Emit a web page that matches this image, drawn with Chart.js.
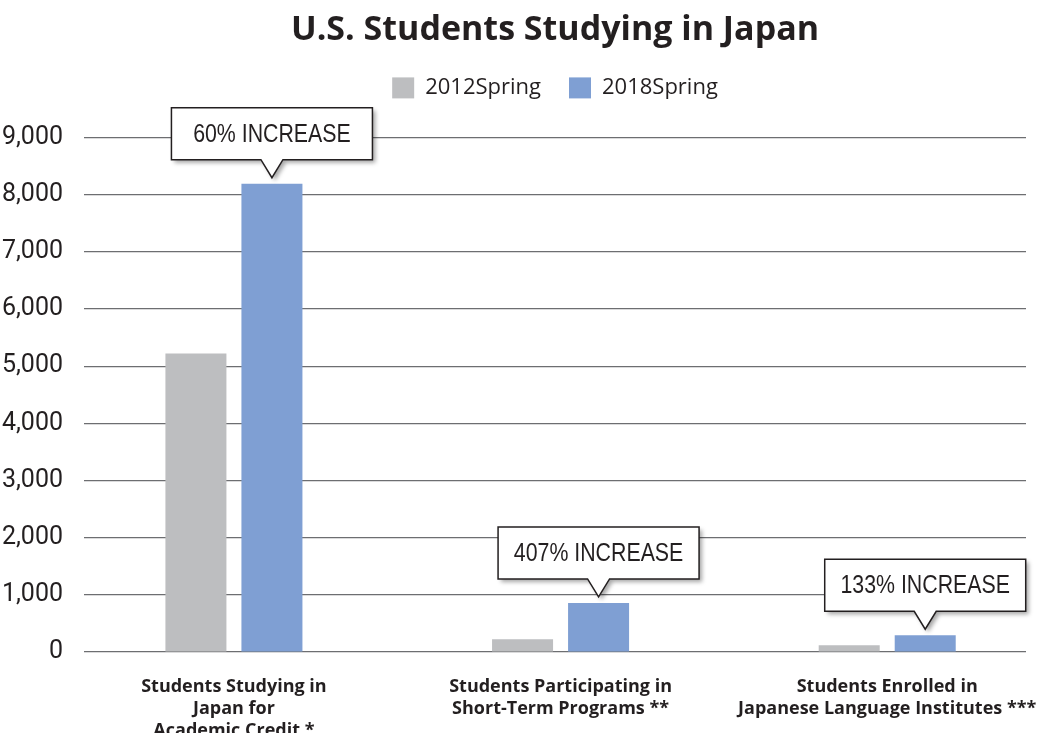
<!DOCTYPE html>
<html>
<head>
<meta charset="utf-8">
<script src="https://cdn.jsdelivr.net/npm/chart.js@4.4.1/dist/chart.umd.min.js"></script>
<style>
  html, body { margin: 0; padding: 0; background: #ffffff; }
  #wrap { width: 1041px; height: 733px; position: relative; }
</style>
</head>
<body>
<div id="wrap"><canvas id="c" width="1041" height="733"></canvas></div>
<script>
const categories = [
  ['Students Studying in', 'Japan for', 'Academic Credit *'],
  ['Students Participating in', 'Short-Term Programs **'],
  ['Students Enrolled in', 'Japanese Language Institutes ***']
];
const seriesNames = ['2012Spring', '2018Spring'];
const values2012 = [5220, 224, 120];
const values2018 = [8190, 859, 293];
const callouts = ['60% INCREASE', '407% INCREASE', '133% INCREASE'];
const yTicks = [0, 1000, 2000, 3000, 4000, 5000, 6000, 7000, 8000, 9000];

const calloutPlugin = {
  id: 'callouts',
  afterDatasetsDraw(chart) {
    const ctx = chart.ctx;
    const meta = chart.getDatasetMeta(1);
    meta.data.forEach((bar, i) => {
      const cx = bar.x;
      const tipY = bar.y - 6;
      const boxBottom = tipY - 18;
      const boxTop = boxBottom - 52;
      const w = 201;
      const left = cx - w / 2, right = cx + w / 2;
      ctx.save();
      ctx.beginPath();
      ctx.moveTo(left, boxTop);
      ctx.lineTo(right, boxTop);
      ctx.lineTo(right, boxBottom);
      ctx.lineTo(cx + 11, boxBottom);
      ctx.lineTo(cx, tipY);
      ctx.lineTo(cx - 11, boxBottom);
      ctx.lineTo(left, boxBottom);
      ctx.closePath();
      ctx.shadowColor = 'rgba(0,0,0,0.35)';
      ctx.shadowBlur = 4;
      ctx.shadowOffsetX = 3;
      ctx.shadowOffsetY = 3;
      ctx.fillStyle = '#ffffff';
      ctx.fill();
      ctx.shadowColor = 'transparent';
      ctx.lineWidth = 1.5;
      ctx.strokeStyle = '#231f20';
      ctx.stroke();
      ctx.fillStyle = '#231f20';
      ctx.font = '26px "Liberation Sans", Arial, sans-serif';
      ctx.textAlign = 'center';
      ctx.textBaseline = 'middle';
      ctx.translate(cx, (boxTop + boxBottom) / 2 + 1);
      ctx.scale(0.82, 1);
      ctx.fillText(callouts[i], 0, 0);
      ctx.restore();
    });
  }
};

new Chart(document.getElementById('c'), {
  type: 'bar',
  data: {
    datasets: [
      { label: seriesNames[0], data: values2012.map((v, i) => ({ x: i, y: v })), backgroundColor: '#bdbec0', borderWidth: 0 },
      { label: seriesNames[1], data: values2018.map((v, i) => ({ x: i, y: v })), backgroundColor: '#7f9fd3', borderWidth: 0 }
    ]
  },
  options: {
    responsive: false,
    animation: false,
    devicePixelRatio: 1,
    layout: { padding: { left: 0, right: 15, top: 0, bottom: 0 } },
    datasets: { bar: { categoryPercentage: 152 / 326.6, barPercentage: 61 / 76 } },
    plugins: {
      tooltip: { enabled: false },
      title: {
        display: true,
        fullSize: false,
        text: 'U.S. Students Studying in Japan',
        color: '#231f20',
        font: { family: '"Open Sans", "Noto Sans", sans-serif', size: 34, weight: 'bold', lineHeight: 1.1 },
        padding: { top: 11.5, bottom: 0 }
      },
      subtitle: {
        display: true,
        fullSize: false,
        weight: 500,
        text: '',
        font: { size: 10, lineHeight: 1 },
        padding: { top: 0, bottom: 18.5 }
      },
      legend: {
        display: true,
        fullSize: false,
        labels: {
          color: '#231f20',
          boxWidth: 22,
          boxHeight: 21,
          padding: 28,
          font: { family: '"Open Sans", "Noto Sans", sans-serif', size: 22 }
        }
      }
    },
    scales: {
      x: {
        type: 'linear',
        offset: false,
        min: -0.459,
        max: 2.4249,
        afterBuildTicks(s) { s.ticks = categories.map((c, i) => ({ value: i })); },
        grid: { display: false },
        border: { display: false },
        ticks: {
          color: '#231f20',
          padding: 16,
          maxRotation: 0,
          autoSkip: false,
          font: { family: '"Open Sans", "Noto Sans", sans-serif', size: 18, weight: 'bold', lineHeight: 1.22 },
          callback: (v) => categories[v]
        },
        afterFit(s) { s.height = 81; s.paddingLeft = 0; s.paddingRight = 0; }
      },
      y: {
        min: 0,
        max: 9000,
        afterBuildTicks(s) { s.ticks = yTicks.map(v => ({ value: v })); },
        grid: { color: '#6d6e71', lineWidth: 1.2, drawTicks: false },
        border: { display: false },
        ticks: {
          color: '#231f20',
          padding: 21,
          font: { family: 'Roboto, "Liberation Sans", sans-serif', size: 25 },
          callback: v => v.toLocaleString('en-US')
        },
        afterFit(s) { s.width = 84; s.paddingTop = 0; s.paddingBottom = 0; }
      }
    }
  },
  plugins: [calloutPlugin]
});
</script>
</body>
</html>
